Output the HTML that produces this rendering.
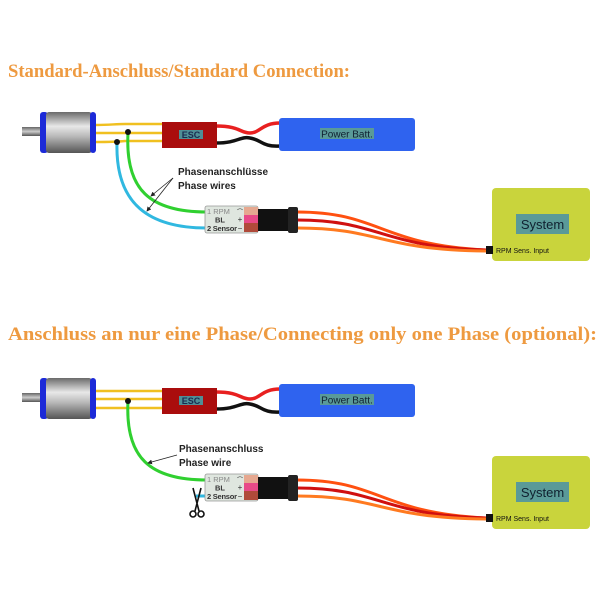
<!DOCTYPE html>
<html><head><meta charset="utf-8"><style>body{margin:0;background:#fff}svg{display:block}</style></head>
<body>
<svg width="600" height="600" viewBox="0 0 600 600" xmlns="http://www.w3.org/2000/svg">
<defs>
<marker id="ah" markerWidth="6" markerHeight="6" refX="5" refY="3" orient="auto"><path d="M0,0 L6,3 L0,6 z" fill="#222"/></marker>
<linearGradient id="can" x1="0" y1="0" x2="0" y2="1">
<stop offset="0" stop-color="#6a6a6a"/><stop offset="0.35" stop-color="#e8e8e8"/><stop offset="0.6" stop-color="#b8b8b8"/><stop offset="1" stop-color="#555"/>
</linearGradient>
<linearGradient id="shaft" x1="0" y1="0" x2="0" y2="1"><stop offset="0" stop-color="#666"/><stop offset="0.5" stop-color="#ccc"/><stop offset="1" stop-color="#555"/></linearGradient>
<g id="motor">
<rect x="22" y="127" width="22" height="9" fill="url(#shaft)"/>
<rect x="40" y="112" width="8" height="41" rx="3" fill="#1c2ad8"/>
<rect x="46" y="112" width="46" height="41" rx="3" fill="url(#can)"/>
<rect x="90" y="112" width="6" height="41" rx="3" fill="#1c2ad8"/>
</g>
<g id="escbat">
<path d="M216,126 C240,126 240,133 250,133 C260,133 262,123 280,123" stroke="#e82020" stroke-width="3.5" fill="none"/>
<path d="M216,143 C238,143 240,136 250,138 C262,140 262,147 280,146" stroke="#111" stroke-width="3.5" fill="none"/>
<rect x="162" y="122" width="55" height="26" fill="#aa0d0d"/>
<rect x="179" y="130" width="24" height="9" fill="#4f8f96"/>
<text x="191" y="138" font-family="Liberation Sans,sans-serif" font-size="9" font-weight="bold" text-anchor="middle" fill="#1a2a50">ESC</text>
<rect x="279" y="118" width="136" height="33" rx="3" fill="#2f63ef"/>
<rect x="320" y="128" width="54" height="11" fill="#5a9a98"/>
<text x="347" y="137.5" font-family="Liberation Sans,sans-serif" font-size="10" text-anchor="middle" fill="#102030">Power Batt.</text>
</g>
<g id="sens">
<path d="M297,212 C380,212 380,245 486,250" stroke="#ff5010" stroke-width="3" fill="none"/>
<path d="M297,220 C380,220 380,247 486,250" stroke="#d01010" stroke-width="3" fill="none"/>
<path d="M297,228 C380,228 380,250 486,251" stroke="#ff7a20" stroke-width="3" fill="none"/>
<rect x="205" y="206" width="53" height="27" rx="2" fill="#dfe6df" stroke="#999" stroke-width="0.8"/>
<rect x="244" y="207" width="14" height="8" fill="#e6a890"/>
<rect x="244" y="215" width="14" height="8" fill="#e84a88"/>
<rect x="244" y="223" width="14" height="9" fill="#b04a3a"/>
<text x="207" y="214" font-family="Liberation Sans,sans-serif" font-size="7.5" fill="#888">1 RPM</text>
<text x="215" y="222.5" font-family="Liberation Sans,sans-serif" font-size="7.5" font-weight="bold" fill="#333">BL</text>
<text x="207" y="231" font-family="Liberation Sans,sans-serif" font-size="7.5" font-weight="bold" fill="#333" textLength="30">2 Sensor</text>
<text x="240" y="214" font-family="Liberation Sans,sans-serif" font-size="6" fill="#333" text-anchor="middle">⌒</text>
<text x="240" y="222" font-family="Liberation Sans,sans-serif" font-size="8" fill="#333" text-anchor="middle">+</text>
<text x="240" y="231" font-family="Liberation Sans,sans-serif" font-size="8" fill="#333" text-anchor="middle">−</text>
<rect x="258" y="209" width="33" height="22" fill="#111"/>
<rect x="288" y="207" width="10" height="26" rx="2" fill="#222"/>
<rect x="492" y="188" width="98" height="73" rx="4" fill="#c9d43c"/>
<rect x="516" y="214" width="53" height="20" fill="#5a9a98"/>
<text x="542.5" y="229" font-family="Liberation Sans,sans-serif" font-size="13" text-anchor="middle" fill="#102030">System</text>
<rect x="486" y="246" width="7" height="8" fill="#111"/>
<text x="496" y="253" font-family="Liberation Sans,sans-serif" font-size="7" fill="#111">RPM Sens. Input</text>
</g>
</defs>

<text x="8" y="77" font-family="Liberation Serif,serif" font-weight="bold" font-size="19" fill="#ee9a40" textLength="342" lengthAdjust="spacingAndGlyphs">Standard-Anschluss/Standard Connection:</text>
<text x="8" y="340" font-family="Liberation Serif,serif" font-weight="bold" font-size="19" fill="#ee9a40" textLength="589" lengthAdjust="spacingAndGlyphs">Anschluss an nur eine Phase/Connecting only one Phase (optional):</text>

<use href="#motor"/>
<g stroke="#f0c020" stroke-width="2.5" fill="none">
<path d="M96,125 C110,125 115,124 125,124 L162,124"/>
<path d="M96,133 L162,133"/>
<path d="M96,142 C110,142 115,142 125,141 L162,141"/>
</g>
<use href="#escbat"/>
<path d="M128,133 C125,190 150,212 207,212" stroke="#30d030" stroke-width="3" fill="none"/>
<path d="M117,142 C115,205 150,228 207,228" stroke="#30b8e0" stroke-width="3" fill="none"/>
<circle cx="128" cy="132" r="3" fill="#111"/><circle cx="117" cy="142" r="3" fill="#111"/>
<use href="#sens"/>
<text x="178" y="175" font-family="Liberation Sans,sans-serif" font-size="10" font-weight="bold" fill="#222">Phasenanschlüsse</text>
<text x="178" y="189" font-family="Liberation Sans,sans-serif" font-size="10" font-weight="bold" fill="#222">Phase wires</text>
<path d="M173,178 L151,196" stroke="#222" stroke-width="0.8" marker-end="url(#ah)"/>
<path d="M173,178 L147,211" stroke="#222" stroke-width="0.8" marker-end="url(#ah)"/>

<g transform="translate(0,266)">
<use href="#motor"/>
<g stroke="#f0c020" stroke-width="2.5" fill="none">
<path d="M96,125 L162,125"/><path d="M96,133 L162,133"/><path d="M96,142 L162,142"/>
</g>
<use href="#escbat"/>
</g>
<g transform="translate(0,268)">
<path d="M128,133 C125,190 150,212 207,212" stroke="#30d030" stroke-width="3" fill="none"/>
<path d="M196,228 L207,228" stroke="#30b8e0" stroke-width="3"/>
<circle cx="128" cy="133" r="3" fill="#111"/>
<use href="#sens"/>
</g>
<text x="179" y="452" font-family="Liberation Sans,sans-serif" font-size="10" font-weight="bold" fill="#222">Phasenanschluss</text>
<text x="179" y="466" font-family="Liberation Sans,sans-serif" font-size="10" font-weight="bold" fill="#222">Phase wire</text>
<path d="M177,455 L148,463" stroke="#222" stroke-width="0.8" marker-end="url(#ah)"/>
<g stroke="#111" stroke-width="1.6" fill="none">
<path d="M193,488 L199,511 M201,488 L195,511"/>
<circle cx="193" cy="514" r="3"/><circle cx="201" cy="514" r="3"/>
</g>
</svg>
</body></html>
